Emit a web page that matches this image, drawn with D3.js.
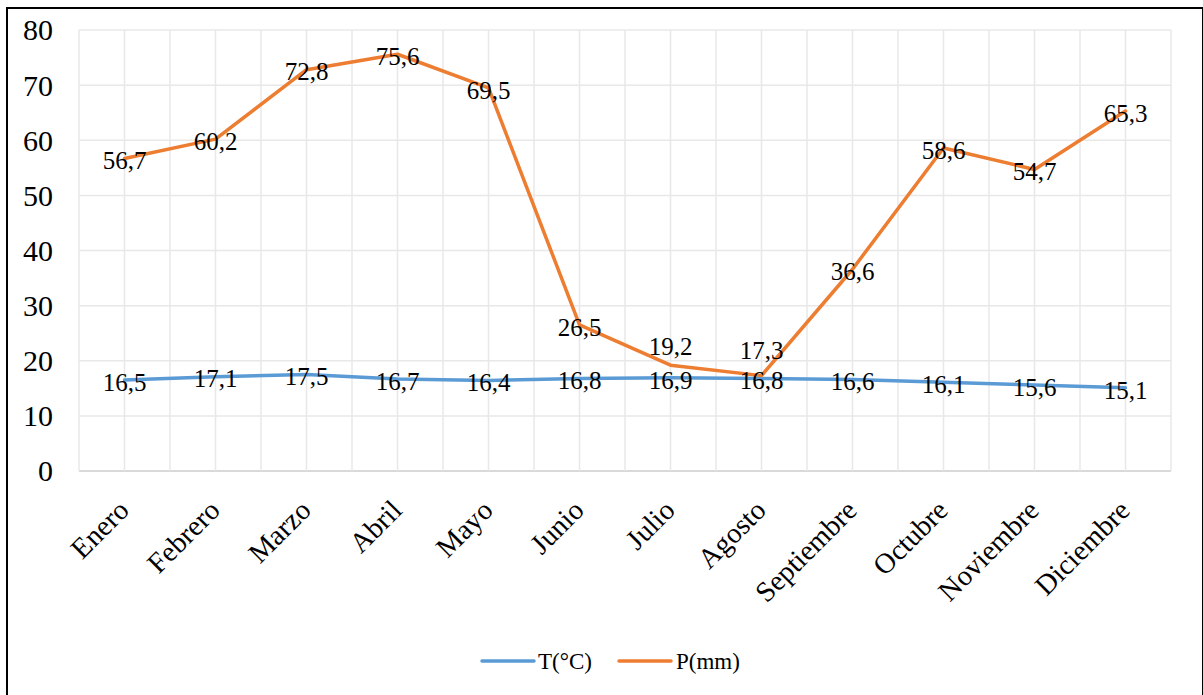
<!DOCTYPE html>
<html>
<head>
<meta charset="utf-8">
<script src="https://cdn.jsdelivr.net/npm/d3@7"></script>
<style>
  html, body { margin: 0; padding: 0; background: #fff; }
  svg { display: block; font-family: "Liberation Serif", "Times New Roman", serif; }
</style>
</head>
<body>
<svg id="chart" width="1203" height="695"></svg>
<script>
const months = ["Enero","Febrero","Marzo","Abril","Mayo","Junio","Julio","Agosto","Septiembre","Octubre","Noviembre","Diciembre"];
const temperature = [16.5,17.1,17.5,16.7,16.4,16.8,16.9,16.8,16.6,16.1,15.6,15.1];
const precipitation = [56.7,60.2,72.8,75.6,69.5,26.5,19.2,17.3,36.6,58.6,54.7,65.3];
const yTicks = [0,10,20,30,40,50,60,70,80];
const seriesNames = ["T(°C)","P(mm)"];
const colors = ["#5B9BD5","#ED7D31"];

const svg = d3.select("#chart");
const plot = {left: 79, right: 1171, top: 30, bottom: 471};

// outer frame
svg.append("rect").attr("x",7).attr("y",8).attr("width",1196).attr("height",700)
  .attr("fill","none").attr("stroke","#000").attr("stroke-width",2);

const x = d3.scaleBand().domain(months).range([plot.left, plot.right]).paddingInner(0).paddingOuter(0);
const y = d3.scaleLinear().domain([0,80]).range([plot.bottom, plot.top]);
const cx = m => x(m) + x.bandwidth()/2;

// gridlines (horizontal)
svg.append("g").selectAll("line").data(yTicks).join("line")
  .attr("x1", plot.left).attr("x2", plot.right)
  .attr("y1", d => y(d)).attr("y2", d => y(d))
  .attr("stroke", d => d === 0 ? "#d9d9d9" : "#e8e8e8")
  .attr("stroke-width", d => d === 0 ? 2 : 1.5);

// vertical gridlines: at band boundaries and centers
const vLines = [];
months.forEach(m => { vLines.push(x(m)); vLines.push(cx(m)); });
vLines.push(plot.right);
svg.append("g").selectAll("line").data(vLines).join("line")
  .attr("x1", d => d).attr("x2", d => d)
  .attr("y1", plot.top).attr("y2", plot.bottom)
  .attr("stroke", "#e8e8e8").attr("stroke-width", 1.5);

// y axis labels
const yAxis = d3.axisLeft(y).tickValues(yTicks).tickSize(0).tickPadding(0).tickFormat(d3.format("d"));
const gy = svg.append("g").attr("transform", `translate(${plot.left - 26},0)`).call(yAxis);
gy.select(".domain").remove();
gy.selectAll("text").attr("font-size", 30).attr("fill", "#000")
  .attr("font-family", "Liberation Serif, Times New Roman, serif").attr("dy", "0.33em");

// x axis labels
const xAxis = d3.axisBottom(x).tickSize(0).tickPadding(0);
const gx = svg.append("g").attr("transform", `translate(0,${plot.bottom})`).call(xAxis);
gx.select(".domain").remove();
gx.selectAll("text")
  .attr("font-size", 28.5).attr("fill", "#000")
  .attr("font-family", "Liberation Serif, Times New Roman, serif")
  .attr("text-anchor", "end")
  .attr("dy", 0).attr("y", 0)
  .attr("transform", "translate(6,41) rotate(-45)");

// lines
const line = d3.line().x((d,i) => cx(months[i])).y(d => y(d));
const series = [temperature, precipitation];
series.forEach((s, k) => {
  svg.append("path").datum(s).attr("d", line)
    .attr("fill", "none").attr("stroke", colors[k]).attr("stroke-width", 3.5)
    .attr("stroke-linejoin", "round").attr("stroke-linecap", "round");
});

// data labels
const fmt = v => d3.format(".1f")(v).replace(".", ",");
const labelShift = {"1-6": -21, "1-7": -27};
series.forEach((s, k) => {
  svg.append("g").selectAll("text").data(s).join("text")
    .attr("x", (d,i) => cx(months[i]))
    .attr("y", (d,i) => y(d) + 2 + (labelShift[k + "-" + i] || 0))
    .attr("dy", "0.35em")
    .attr("text-anchor", "middle")
    .attr("font-size", 25).attr("fill", "#000")
    .text(d => fmt(d));
});

// legend
const legend = svg.append("g");
const legItems = [{x1: 482, x2: 534, tx: 538}, {x1: 619, x2: 671, tx: 676}];
seriesNames.forEach((n, k) => {
  legend.append("line").attr("x1", legItems[k].x1).attr("x2", legItems[k].x2)
    .attr("y1", 661).attr("y2", 661).attr("stroke", colors[k]).attr("stroke-width", 3.5)
    .attr("stroke-linecap", "round");
  legend.append("text").attr("x", legItems[k].tx).attr("y", 661).attr("dy", "0.35em")
    .attr("font-size", 23).attr("fill", "#000").text(n);
});
</script>
</body>
</html>
